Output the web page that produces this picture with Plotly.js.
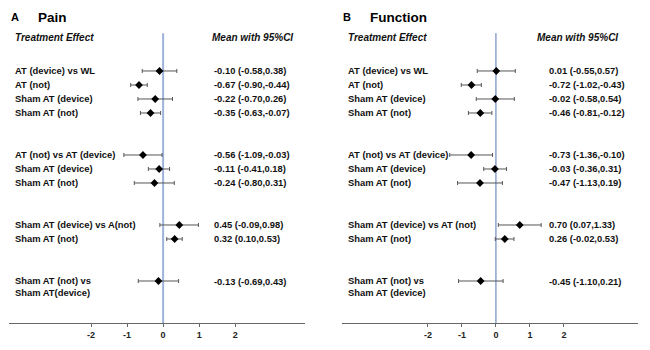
<!DOCTYPE html>
<html>
<head>
<meta charset="utf-8">
<script src="https://cdn.plot.ly/plotly-3.0.1.min.js"></script>
<style>html,body{margin:0;padding:0;background:#fff}#chart{width:650px;height:350px}</style>
</head>
<body>
<div id="chart"></div>
<script>
// ---- Data ----
const groupSizes = [4, 3, 2, 1];

const painLabels = ["AT (device) vs WL", "AT (not)", "Sham AT (device)", "Sham AT (not)",
  "AT (not) vs AT (device)", "Sham AT (device)", "Sham AT (not)",
  "Sham AT (device) vs A(not)", "Sham AT (not)",
  "Sham AT (not) vs<br>Sham AT(device)"];
const painMean = [-0.10, -0.67, -0.22, -0.35, -0.56, -0.11, -0.24, 0.45, 0.32, -0.13];
const painLow  = [-0.58, -0.90, -0.70, -0.63, -1.09, -0.41, -0.80, -0.09, 0.10, -0.69];
const painHigh = [0.38, -0.44, 0.26, -0.07, -0.03, 0.18, 0.31, 0.98, 0.53, 0.43];

const funcLabels = ["AT (device) vs WL", "AT (not)", "Sham AT (device)", "Sham AT (not)",
  "AT (not) vs AT (device)", "Sham AT (device)", "Sham AT (not)",
  "Sham AT (device) vs AT (not)", "Sham AT (not)",
  "Sham AT (not) vs<br>Sham AT (device)"];
const funcMean = [0.01, -0.72, -0.02, -0.46, -0.73, -0.03, -0.47, 0.70, 0.26, -0.45];
const funcLow  = [-0.55, -1.02, -0.58, -0.81, -1.36, -0.36, -1.13, 0.07, -0.02, -1.10];
const funcHigh = [0.57, -0.43, 0.54, -0.12, -0.10, 0.31, 0.19, 1.33, 0.53, 0.21];

const tickValues = [-2, -1, 0, 1, 2];

// ---- Row slots from group structure ----
const slots = [];
let s = 0;
groupSizes.forEach(n => { for (let i = 0; i < n; i++) slots.push(s++); s += 2; });

const FONT = "Liberation Sans, Arial, sans-serif";
const W = 650;

function fmt(v) { return v.toFixed(2); }

function trace(mean, lo, hi, xa) {
  return {
    type: 'scatter', mode: 'markers', xaxis: xa, yaxis: 'y',
    x: mean, y: slots,
    marker: {symbol: 'diamond', size: 6, color: '#000'},
    error_x: {type: 'data', symmetric: false,
      array: hi.map((h, i) => h - mean[i]),
      arrayminus: lo.map((l, i) => mean[i] - l),
      color: '#555', thickness: 1, width: 2},
    hoverinfo: 'skip', showlegend: false, cliponaxis: false
  };
}

const annotations = [];
function panelText(labels, mean, lo, hi, labelX, valX, letter, letterX, title, titleX, headX, meanHeadX) {
  labels.forEach((lab, i) => {
    const lines = lab.split('<br>').length;
    annotations.push({xref: 'paper', yref: 'y', x: labelX / W, y: slots[i], xanchor: 'left', yanchor: 'middle',
      yshift: -(lines - 1) * 5.5, text: lab, showarrow: false, align: 'left',
      font: {family: FONT, size: 9.4, color: '#111', weight: 'bold'}});
    annotations.push({xref: 'paper', yref: 'y', x: valX / W, y: slots[i], xanchor: 'left', yanchor: 'middle',
      text: fmt(mean[i]) + ' (' + fmt(lo[i]) + ',' + fmt(hi[i]) + ')', showarrow: false,
      font: {family: FONT, size: 9.4, color: '#111', weight: 'bold'}});
  });
  annotations.push({xref: 'paper', yref: 'paper', x: letterX / W, y: 1 - 17 / 350, xanchor: 'left', yanchor: 'middle',
    text: letter, showarrow: false, font: {family: FONT, size: 11, color: '#000', weight: 'bold'}});
  annotations.push({xref: 'paper', yref: 'paper', x: titleX / W, y: 1 - 17 / 350, xanchor: 'left', yanchor: 'middle',
    text: title, showarrow: false, font: {family: FONT, size: 13.5, color: '#000', weight: 'bold'}});
  annotations.push({xref: 'paper', yref: 'paper', x: headX / W, y: 1 - 38 / 350, xanchor: 'left', yanchor: 'middle',
    text: 'Treatment Effect', showarrow: false, font: {family: FONT, size: 10, color: '#111', weight: 'bold', style: 'italic'}});
  annotations.push({xref: 'paper', yref: 'paper', x: meanHeadX / W, y: 1 - 38 / 350, xanchor: 'left', yanchor: 'middle',
    text: 'Mean with 95%CI', showarrow: false, font: {family: FONT, size: 10, color: '#111', weight: 'bold', style: 'italic'}});
}
panelText(painLabels, painMean, painLow, painHigh, 13, 212, 'A', 9, 'Pain', 36, 13, 210);
panelText(funcLabels, funcMean, funcLow, funcHigh, 346, 547, 'B', 341, 'Function', 368, 346, 535);

const xCommon = {
  tickmode: 'array', tickvals: tickValues, ticktext: tickValues.map(String),
  ticks: 'outside', ticklen: 3, tickcolor: '#666', tickwidth: 1,
  showline: true, linecolor: '#666', linewidth: 1,
  showgrid: false, zeroline: false, anchor: 'y', fixedrange: true,
  tickfont: {family: FONT, size: 9, color: '#222', weight: 'bold'}
};

const layout = {
  width: 650, height: 350,
  margin: {l: 0, r: 0, t: 0, b: 0},
  paper_bgcolor: '#fff', plot_bgcolor: '#fff',
  showlegend: false,
  xaxis: Object.assign({}, xCommon, {domain: [9 / W, 305 / W], range: [-4.28, 3.94]}),
  xaxis2: Object.assign({}, xCommon, {domain: [342 / W, 638 / W], range: [-4.53, 4.18]}),
  yaxis: {domain: [27 / 350, 1], range: [18, -5.07], visible: false, fixedrange: true},
  shapes: [
    {type: 'line', xref: 'x', yref: 'y', x0: 0, x1: 0, y0: -2.7, y1: 18, line: {color: '#9db3da', width: 2}, layer: 'below'},
    {type: 'line', xref: 'x2', yref: 'y', x0: 0, x1: 0, y0: -2.7, y1: 18, line: {color: '#5574b8', width: 1}, layer: 'below'}
  ],
  annotations: annotations
};

Plotly.newPlot('chart', [trace(painMean, painLow, painHigh, 'x'), trace(funcMean, funcLow, funcHigh, 'x2')],
  layout, {staticPlot: true, displayModeBar: false});
</script>
</body>
</html>
